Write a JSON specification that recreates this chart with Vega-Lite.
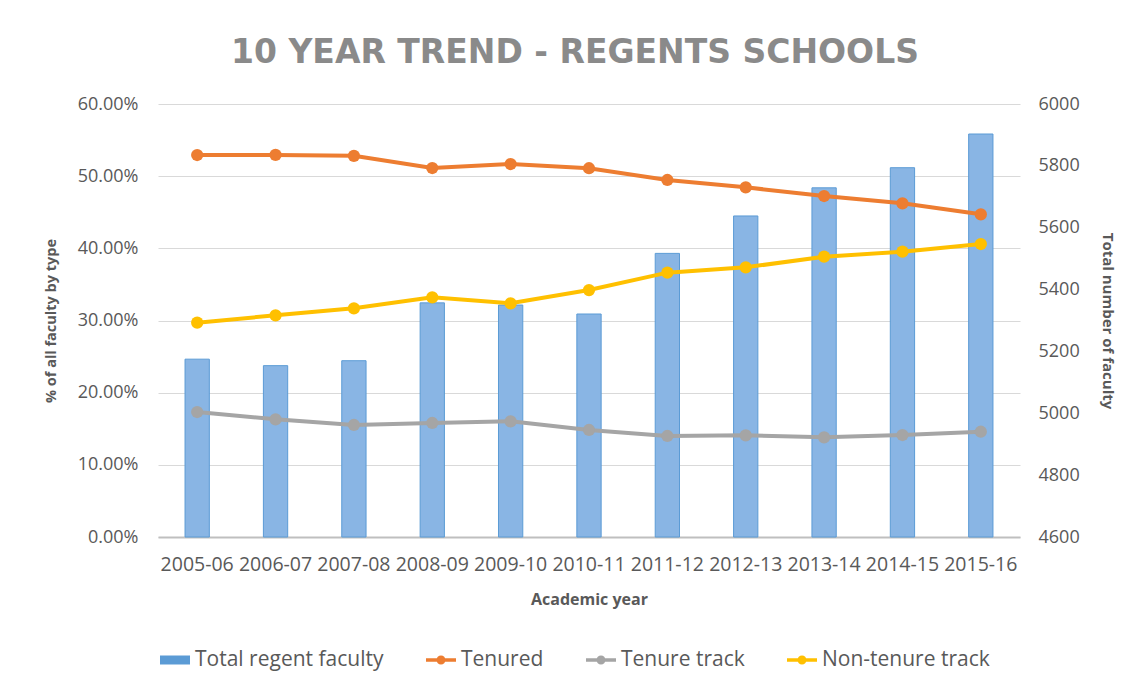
{
  "$schema": "https://vega.github.io/schema/vega-lite/v6.json",
  "width": 862,
  "height": 433,
  "autosize": {"type": "none"},
  "padding": {"left": 158, "top": 104, "right": 118, "bottom": 153},
  "background": "white",
  "title": {
    "text": "10 YEAR TREND - REGENTS SCHOOLS",
    "font": "DejaVu Sans",
    "fontSize": 33,
    "fontWeight": "bold",
    "color": "#8a8a8a",
    "anchor": "middle",
    "baseline": "alphabetic",
    "offset": 41,
    "dy": 42,
    "dx": -14
  },
  "config": {
    "view": {"stroke": null},
    "font": "Open Sans",
    "axis": {
      "labelFont": "Open Sans",
      "titleFont": "Open Sans",
      "labelColor": "#595959",
      "titleColor": "#595959",
      "ticks": false,
      "domain": false
    },
    "legend": {"labelFont": "Open Sans"}
  },
  "data": {
    "values": [
      {"year": "2005-06", "total": 5175, "Tenured": 0.5293, "Tenure track": 0.1732, "Non-tenure track": 0.2970},
      {"year": "2006-07", "total": 5154, "Tenured": 0.5295, "Tenure track": 0.1631, "Non-tenure track": 0.3072},
      {"year": "2007-08", "total": 5170, "Tenured": 0.5282, "Tenure track": 0.1552, "Non-tenure track": 0.3169},
      {"year": "2008-09", "total": 5357, "Tenured": 0.5113, "Tenure track": 0.1580, "Non-tenure track": 0.3321},
      {"year": "2009-10", "total": 5350, "Tenured": 0.5168, "Tenure track": 0.1603, "Non-tenure track": 0.3238},
      {"year": "2010-11", "total": 5321, "Tenured": 0.5110, "Tenure track": 0.1483, "Non-tenure track": 0.3422},
      {"year": "2011-12", "total": 5517, "Tenured": 0.4947, "Tenure track": 0.1400, "Non-tenure track": 0.3663},
      {"year": "2012-13", "total": 5638, "Tenured": 0.4845, "Tenure track": 0.1409, "Non-tenure track": 0.3737},
      {"year": "2013-14", "total": 5729, "Tenured": 0.4725, "Tenure track": 0.1381, "Non-tenure track": 0.3884},
      {"year": "2014-15", "total": 5794, "Tenured": 0.4624, "Tenure track": 0.1413, "Non-tenure track": 0.3954},
      {"year": "2015-16", "total": 5903, "Tenured": 0.4471, "Tenure track": 0.1459, "Non-tenure track": 0.4060}
    ]
  },
  "encoding": {
    "x": {
      "field": "year",
      "type": "nominal",
      "sort": null,
      "scale": {"paddingInner": 0.69, "paddingOuter": 0.345},
      "axis": {
        "title": "Academic year",
        "labelAngle": 0,
        "labelFontSize": 19.5,
        "labelPadding": 18,
        "domain": true,
        "domainColor": "#bfbfbf",
        "domainWidth": 2,
        "titleFontSize": 16,
        "titleFontWeight": "bold",
        "titlePadding": 18
      }
    }
  },
  "layer": [
    {
      "mark": {"type": "bar", "fill": "#89b5e4", "stroke": "#5b9bd5", "strokeWidth": 1},
      "encoding": {
        "y": {
          "field": "total",
          "type": "quantitative",
          "scale": {"domain": [4600, 6000], "zero": false, "nice": false},
          "axis": {
            "orient": "right",
            "values": [4600, 4800, 5000, 5200, 5400, 5600, 5800, 6000],
            "format": "d",
            "grid": false,
            "labelFontSize": 18,
            "labelPadding": 18,
            "title": "Total number of faculty",
            "titleFontSize": 15,
            "titleFontWeight": "bold",
            "titlePadding": 20
          }
        },
        "y2": {"datum": 4600},
        "color": {"datum": "Total regent faculty"}
      }
    },
    {
      "transform": [
        {"fold": ["Tenured", "Tenure track", "Non-tenure track"], "as": ["series", "share"]}
      ],
      "mark": {"type": "line", "strokeWidth": 4, "point": {"size": 150, "filled": true, "opacity": 1}},
      "encoding": {
        "y": {
          "field": "share",
          "type": "quantitative",
          "scale": {"domain": [0, 0.6], "nice": false},
          "axis": {
            "orient": "left",
            "values": [0, 0.1, 0.2, 0.3, 0.4, 0.5, 0.6],
            "format": ".2%",
            "grid": true,
            "gridColor": "#d9d9d9",
            "gridWidth": 1.2,
            "labelFontSize": 18,
            "labelPadding": 20,
            "title": "% of all faculty  by type",
            "titleFontSize": 14.5,
            "titleFontWeight": "bold",
            "titlePadding": 19
          }
        },
        "color": {
          "field": "series",
          "type": "nominal",
          "scale": {
            "domain": ["Total regent faculty", "Tenured", "Tenure track", "Non-tenure track"],
            "range": ["#5b9bd5", "#ed7d31", "#a5a5a5", "#ffc000"]
          },
          "legend": {
            "title": null,
            "orient": "none",
            "direction": "horizontal",
            "legendX": 2,
            "legendY": 541,
            "labelFontSize": 21,
            "labelLimit": 400,
            "labelColor": "#595959",
            "labelOffset": 5,
            "columnPadding": 42,
            "symbolSize": 900,
            "encode": {
              "symbols": {
                "update": {
                  "shape": {"signal": "datum.value === 'Total regent faculty' ? 'M-1,-0.3H1V0.3H-1Z' : 'M-1,-0.12H1V0.12H-1Z M-0.3,0 A0.3,0.3 0 1,1 0.3,0 A0.3,0.3 0 1,1 -0.3,0 Z'"},
                  "fill": {"scale": "color", "field": "value"},
                  "strokeWidth": {"value": 0},
                  "opacity": {"value": 1}
                }
              }
            }
          }
        }
      }
    }
  ],
  "resolve": {"scale": {"y": "independent"}}
}
